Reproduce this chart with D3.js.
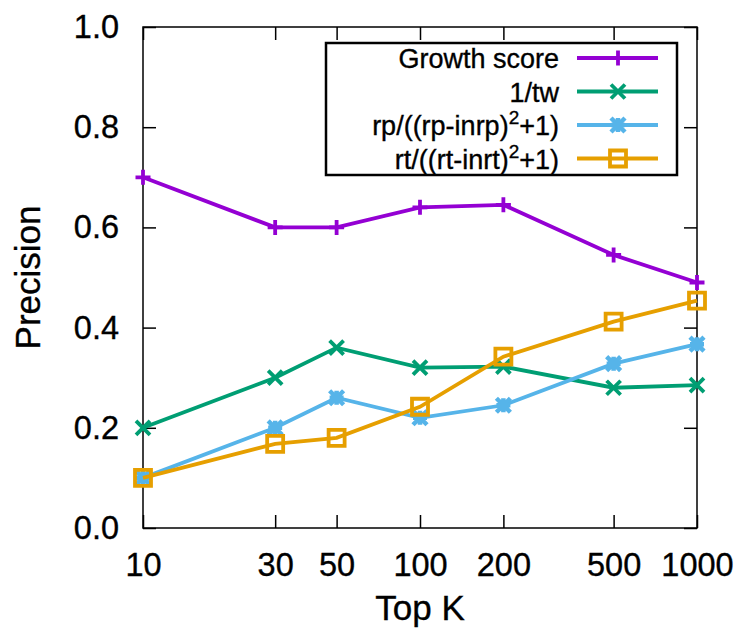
<!DOCTYPE html>
<html>
<head>
<meta charset="utf-8">
<script src="https://cdn.jsdelivr.net/npm/d3@7"></script>
<style>
  body { margin: 0; background: #fff; }
  svg text { font-family: "Liberation Sans", Arial, sans-serif; fill: #000; stroke: #000; stroke-width: 0.35px; }
</style>
</head>
<body>
<div id="chart"></div>
<script>
// values
const topK = [10, 30, 50, 100, 200, 500, 1000];
const xTicks = [10, 30, 50, 100, 200, 500, 1000];
const yTicks = [0, 0.2, 0.4, 0.6, 0.8, 1.0];

const growthScore = [0.70, 0.60, 0.60, 0.64, 0.645, 0.545, 0.49];
const invTw = [0.20, 0.30, 0.36, 0.32, 0.322, 0.28, 0.285];
const rpScore = [0.10, 0.20, 0.26, 0.22, 0.245, 0.328, 0.367];
const rtScore = [0.10, 0.168, 0.18, 0.242, 0.342, 0.412, 0.454];

const seriesNames = ["Growth score", "1/tw", "rp/((rp-inrp)", "rt/((rt-inrt)"];
const seriesColors = ["#9400d3", "#009e73", "#56b4e9", "#e69f00"];
const seriesMarkers = ["plus", "cross", "star", "square"];

const series = [growthScore, invTw, rpScore, rtScore].map((vals, i) => ({
  name: seriesNames[i],
  color: seriesColors[i],
  marker: seriesMarkers[i],
  values: vals.map((v, j) => ({ k: topK[j], p: v }))
}));

const W = 739, H = 630;
const margin = { top: 27, right: 42, bottom: 102, left: 143 };
const width = W - margin.left - margin.right;
const height = H - margin.top - margin.bottom;

const svg = d3.select("#chart").append("svg")
  .attr("width", W).attr("height", H);

const g = svg.append("g")
  .attr("transform", "translate(" + margin.left + "," + margin.top + ")");

const x = d3.scaleLog().domain([10, 1000]).range([0, width]);
const y = d3.scaleLinear().domain([0, 1]).range([height, 0]);

// axes, ticks pointing inwards and mirrored
const tickLen = 13;
const xAxis = g.append("g").attr("transform", "translate(0," + height + ")")
  .call(d3.axisBottom(x).tickValues(xTicks).tickFormat(d3.format("d")).tickSize(-tickLen).tickPadding(tickLen + 12));
g.append("g")
  .call(d3.axisTop(x).tickValues(xTicks).tickFormat("").tickSize(-tickLen));
const yAxis = g.append("g")
  .call(d3.axisLeft(y).tickValues(yTicks).tickFormat(d3.format(".1f")).tickSize(-tickLen).tickPadding(tickLen + 11));
g.append("g").attr("transform", "translate(" + width + ",0)")
  .call(d3.axisRight(y).tickValues(yTicks).tickFormat("").tickSize(-tickLen));

g.selectAll(".domain").remove();
g.selectAll(".tick line").attr("stroke", "#000").attr("stroke-width", 1.5);
g.selectAll(".tick text").attr("font-size", 32.5).attr("font-family", "Liberation Sans, Arial, sans-serif").attr("fill", "#000");
xAxis.selectAll(".tick text").attr("dy", "0.71em");

g.append("rect")
  .attr("width", width).attr("height", height)
  .attr("fill", "none").attr("stroke", "#000").attr("stroke-width", 1.5);

// axis titles
svg.append("text")
  .attr("x", margin.left + width / 2).attr("y", 620)
  .attr("text-anchor", "middle").attr("font-size", 35)
  .text("Top K");
svg.append("text")
  .attr("transform", "translate(40," + (margin.top + height / 2) + ") rotate(-90)")
  .attr("text-anchor", "middle").attr("font-size", 35)
  .text("Precision");

// markers
function markerPath(type, s) {
  const p = d3.path();
  if (type === "plus" || type === "star") {
    p.moveTo(-s, 0); p.lineTo(s, 0);
    p.moveTo(0, -s); p.lineTo(0, s);
  }
  if (type === "cross" || type === "star") {
    p.moveTo(-s, -s); p.lineTo(s, s);
    p.moveTo(-s, s); p.lineTo(s, -s);
  }
  if (type === "square") {
    p.rect(-s, -s, 2 * s, 2 * s);
  }
  return p.toString();
}
const markerSize = { plus: 7.5, cross: 7, star: 7, square: 8 };

const line = d3.line().x(d => x(d.k)).y(d => y(d.p));

series.forEach(function(s) {
  const sg = g.append("g");
  sg.append("path")
    .datum(s.values)
    .attr("d", line)
    .attr("fill", "none")
    .attr("stroke", s.color)
    .attr("stroke-width", 3.8);
  sg.selectAll(".pt")
    .data(s.values)
    .enter().append("path")
    .attr("class", "pt")
    .attr("transform", d => "translate(" + x(d.k) + "," + y(d.p) + ")")
    .attr("d", markerPath(s.marker, markerSize[s.marker]))
    .attr("fill", "none")
    .attr("stroke", s.color)
    .attr("stroke-width", s.marker === "star" ? 4.5 : 3.8);
});

// legend
const legend = svg.append("g");
legend.append("rect")
  .attr("x", 326).attr("y", 43).attr("width", 351).attr("height", 132)
  .attr("fill", "#fff").attr("stroke", "#000").attr("stroke-width", 2.5);

series.forEach(function(s, i) {
  const cy = 58 + i * 33.5;
  const row = legend.append("g");
  const t = row.append("text")
    .attr("x", 559).attr("y", cy + 10)
    .attr("text-anchor", "end").attr("font-size", 27);
  t.append("tspan").text(s.name);
  if (i >= 2) {
    t.append("tspan").attr("font-size", 19).attr("dy", -11).text("2");
    t.append("tspan").attr("dy", 11).text("+1)");
  }
  row.append("line")
    .attr("x1", 577).attr("x2", 658).attr("y1", cy).attr("y2", cy)
    .attr("stroke", s.color).attr("stroke-width", 3.8);
  row.append("path")
    .attr("transform", "translate(618," + cy + ")")
    .attr("d", markerPath(s.marker, markerSize[s.marker]))
    .attr("fill", "none")
    .attr("stroke", s.color)
    .attr("stroke-width", s.marker === "star" ? 4.5 : 3.8);
});
</script>
</body>
</html>
